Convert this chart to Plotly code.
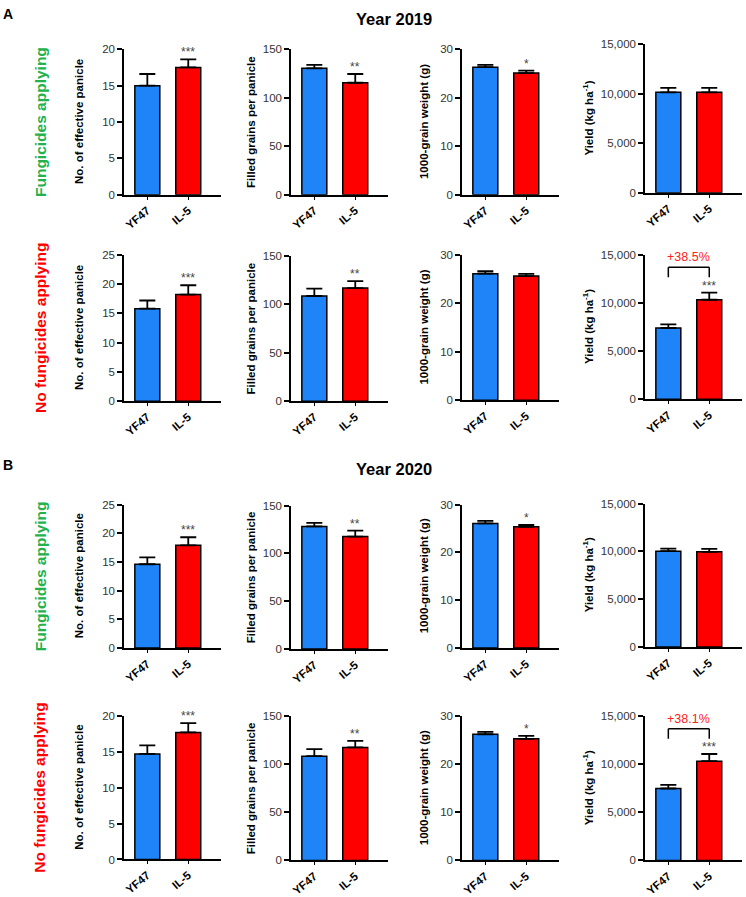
import plotly.graph_objects as go

# ---------------- data ----------------
categories = ["YF47", "IL-5"]
years = ["Year 2019", "Year 2020"]
panel_letters = ["A", "B"]
row_labels = ["Fungicides applying", "No fungicides applying",
              "Fungicides applying", "No fungicides applying"]
y_titles = ["No. of effective panicle", "Filled grains per panicle",
            "1000-grain weight (g)", "Yield (kg ha<sup>-1</sup>)"]

# rows: 2019 fungicides, 2019 no fungicides, 2020 fungicides, 2020 no fungicides
panicle_mean = [[15.0, 17.5], [15.8, 18.2], [14.6, 17.9], [14.7, 17.7]]
panicle_err = [[1.6, 1.1], [1.4, 1.6], [1.2, 1.4], [1.2, 1.3]]
grains_mean = [[130.3, 115.5], [108.5, 116.7], [128.1, 117.5], [108.2, 117.3]]
grains_err = [[3.7, 9.0], [7.6, 7.2], [3.8, 6.2], [7.4, 6.8]]
weight_mean = [[26.3, 25.1], [26.1, 25.6], [26.05, 25.35], [26.2, 25.25]]
weight_err = [[0.5, 0.5], [0.5, 0.45], [0.55, 0.4], [0.5, 0.6]]
yield_mean = [[10150, 10150], [7400, 10330], [10020, 9960], [7470, 10300]]
yield_err = [[460, 460], [380, 750], [270, 300], [370, 750]]

sig_marks = [["***", "**", "*", ""],
             ["***", "**", "", "***"],
             ["***", "**", "*", ""],
             ["***", "**", "*", "***"]]
yield_increase = ["", "+38.5%", "", "+38.1%"]

y_max = [[20, 150, 30, 15000], [25, 150, 30, 15000],
         [25, 150, 30, 15000], [20, 150, 30, 15000]]
y_dtick = [5, 50, 10, 5000]

# ---------------- layout geometry (pixels) ----------------
W, H = 746, 897
col_left = [124, 291, 462, 645]
plot_w = 97
row_top = [[44, 44, 44, 39], [253, 254, 253, 253], [507, 508, 507, 506], [722, 722, 722, 722]]
row_bot = [[192, 192, 192, 190], [402, 402, 401, 400], [653, 654, 653, 652], [868, 869, 869, 869]]
title_x = [79, 251, 424, 588]
row_label_x = 40

BLUE = "#1E84F8"
RED = "#FF0000"
GREEN = "#22B14C"
FONT = "Arial, Liberation Sans, sans-serif"

means = [panicle_mean, grains_mean, weight_mean, yield_mean]
errs = [panicle_err, grains_err, weight_err, yield_err]

fig = go.Figure()
annotations = []
shapes = []
layout_axes = {}

for r in range(4):
    for c in range(4):
        k = r * 4 + c + 1
        xa = "x" if k == 1 else f"x{k}"
        ya = "y" if k == 1 else f"y{k}"
        m = means[c][r]
        e = errs[c][r]
        fig.add_trace(go.Bar(
            x=[0, 1], y=m, width=0.61,
            marker=dict(color=[BLUE, RED], line=dict(color="black", width=1.5)),
            error_y=dict(type="data", symmetric=False, array=e, arrayminus=[0, 0],
                         color="black", thickness=1.8, width=8),
            xaxis=xa, yaxis=ya, showlegend=False, hoverinfo="skip",
        ))
        x0 = col_left[c] / W
        x1 = (col_left[c] + plot_w) / W
        y0 = 1 - row_bot[r][c] / H
        y1 = 1 - row_top[r][c] / H
        xkey = "xaxis" if k == 1 else f"xaxis{k}"
        ykey = "yaxis" if k == 1 else f"yaxis{k}"
        layout_axes[xkey] = dict(
            domain=[x0, x1], anchor=ya, range=[-0.57, 1.8],
            tickvals=[0, 1], ticktext=categories, tickangle=-40,
            tickfont=dict(family=FONT, size=11.5, color="black", weight="bold"),
            showline=True, linecolor="black", linewidth=1.5,
            ticks="outside", ticklen=3, tickwidth=1.2, tickcolor="black",
            showgrid=False, zeroline=False, fixedrange=True,
        )
        ymax = y_max[r][c]
        layout_axes[ykey] = dict(
            domain=[y0, y1], anchor=xa, range=[0, ymax],
            tick0=0, dtick=y_dtick[c],
            tickformat=",d" if c == 3 else "d",
            tickfont=dict(family=FONT, size=11.5, color="#333"),
            showline=True, linecolor="black", linewidth=1.5,
            ticks="outside", ticklen=5, tickwidth=1.5, tickcolor="black",
            showgrid=False, zeroline=False, fixedrange=True,
        )
        # y-axis title
        annotations.append(dict(
            x=title_x[c] / W, y=(y0 + y1) / 2, xref="paper", yref="paper",
            text=f"<b>{y_titles[c]}</b>", textangle=-90, showarrow=False,
            xanchor="center", yanchor="middle",
            font=dict(family=FONT, size=11.5, color="black"),
        ))
        # significance mark
        top_il5 = m[1] + e[1]
        if sig_marks[r][c]:
            annotations.append(dict(
                x=1, y=top_il5, xref=xa, yref=ya, text=sig_marks[r][c],
                showarrow=False, xanchor="center", yanchor="bottom", yshift=-2,
                font=dict(family=FONT, size=12, color="#444"),
            ))
        # bracket with percent increase
        if c == 3 and yield_increase[r]:
            top_pair = max(m[0] + e[0], m[1] + e[1])
            b_top = top_pair + 0.175 * ymax
            b_leg = top_pair + 0.105 * ymax
            for (xa0, ya0, xa1, ya1) in [(0, b_leg, 0, b_top), (0, b_top, 1, b_top), (1, b_top, 1, b_leg)]:
                shapes.append(dict(type="line", xref=xa, yref=ya, x0=xa0, y0=ya0, x1=xa1, y1=ya1,
                                   line=dict(color="black", width=1.5)))
            annotations.append(dict(
                x=0.5, y=b_top, xref=xa, yref=ya, text=yield_increase[r],
                showarrow=False, xanchor="center", yanchor="bottom", yshift=1,
                font=dict(family=FONT, size=12.5, color="#FF2020"),
            ))
    # row label
    cy = 1 - ((row_top[r][0] + row_bot[r][0]) / 2) / H
    annotations.append(dict(
        x=row_label_x / W, y=cy, xref="paper", yref="paper",
        text=f"<b>{row_labels[r]}</b>", textangle=-90, showarrow=False,
        xanchor="center", yanchor="middle",
        font=dict(family=FONT, size=15.5, color=GREEN if r % 2 == 0 else RED),
    ))

# panel letters and year titles
letter_y = [8, 467]
year_y = [13, 471]
for i in range(2):
    annotations.append(dict(
        x=8 / W, y=1 - letter_y[i] / H, xref="paper", yref="paper",
        text=f"<b>{panel_letters[i]}</b>", showarrow=False,
        xanchor="center", yanchor="middle",
        font=dict(family=FONT, size=14, color="black"),
    ))
    annotations.append(dict(
        x=394 / W, y=1 - year_y[i] / H, xref="paper", yref="paper",
        text=f"<b>{years[i]}</b>", showarrow=False,
        xanchor="center", yanchor="middle",
        font=dict(family=FONT, size=16.5, color="black"),
    ))

fig.update_layout(
    width=W, height=H, margin=dict(l=0, r=0, t=0, b=0),
    paper_bgcolor="white", plot_bgcolor="white",
    annotations=annotations, shapes=shapes,
    font=dict(family=FONT),
    **layout_axes,
)

fig.write_html(
    "out.html",
    config={"displayModeBar": False},
    post_script="document.body.style.margin='0';document.body.style.padding='0';"
                "document.body.style.overflow='hidden';",
)
